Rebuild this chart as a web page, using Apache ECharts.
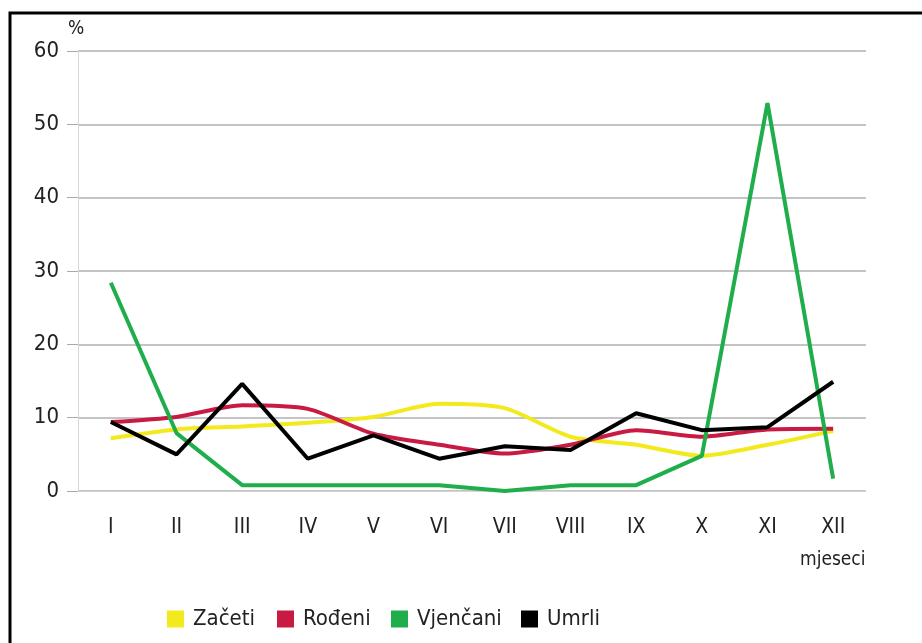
<!DOCTYPE html>
<html>
<head>
<meta charset="utf-8">
<script src="https://cdn.jsdelivr.net/npm/echarts@6/dist/echarts.min.js"></script>
<style>
  html, body { margin: 0; padding: 0; background: #fff; }
  #chart { width: 922px; height: 643px; }
</style>
</head>
<body>
<div id="chart"></div>
<script>
const months = ['I', 'II', 'III', 'IV', 'V', 'VI', 'VII', 'VIII', 'IX', 'X', 'XI', 'XII'];
const zaceti = [7.2, 8.4, 8.8, 9.3, 10.1, 11.9, 11.3, 7.4, 6.3, 4.8, 6.3, 8.2];
const rodeni = [9.4, 10.1, 11.7, 11.2, 7.8, 6.3, 5.1, 6.3, 8.3, 7.4, 8.4, 8.5];
const vjencani = [28.4, 7.9, 0.8, 0.8, 0.8, 0.8, 0, 0.8, 0.8, 4.8, 52.9, 1.7];
const umrli = [9.4, 5.0, 14.6, 4.4, 7.6, 4.4, 6.1, 5.6, 10.6, 8.3, 8.7, 14.9];

const font = "'Liberation Sans Narrow', 'DejaVu Sans Condensed', sans-serif";
const myChart = echarts.init(document.getElementById('chart'));

const legendAt = (name, left) => ({
  data: [name],
  left: left,
  top: 603,
  icon: 'rect',
  itemWidth: 17,
  itemHeight: 17,
  itemGap: 0,
  textStyle: { fontFamily: font, fontSize: 22, color: '#222', padding: [0, 0, 0, 4] },
});

myChart.setOption({
  animation: false,
  grid: { left: 78, right: 56, top: 51, bottom: 152 },
  legend: [
    legendAt('Začeti', 162),
    legendAt('Rođeni', 272),
    legendAt('Vjenčani', 386),
    legendAt('Umrli', 516),
  ],
  graphic: [
    {
      type: 'rect',
      shape: { x: 10, y: 13, width: 930, height: 660 },
      style: { fill: 'none', stroke: '#000', lineWidth: 3 },
    },
    {
      type: 'text',
      left: 800,
      top: 551,
      style: { text: 'mjeseci', font: '19px ' + font, fill: '#222' },
    },
  ],
  xAxis: {
    type: 'category',
    data: months,
    boundaryGap: true,
    axisLine: { lineStyle: { color: '#d4d4d4', width: 1 } },
    axisTick: { length: 24, lineStyle: { color: '#999', width: 1 } },
    axisLabel: { fontFamily: font, fontSize: 21, color: '#222', margin: 26 },
  },
  yAxis: {
    type: 'value',
    min: 0,
    max: 60,
    interval: 10,
    name: '%',
    nameGap: 12,
    nameTextStyle: { fontFamily: font, fontSize: 19, color: '#222', padding: [0, 0, 0, -4] },
    axisLine: { show: true, lineStyle: { color: '#d8d8d8', width: 1 } },
    axisTick: { show: true, length: 11, lineStyle: { color: '#aaa' } },
    axisLabel: { fontFamily: font, fontSize: 22, color: '#222', margin: 19 },
    splitLine: { lineStyle: { color: '#b0b0b0', width: 1.5 } },
  },
  series: [
    { name: 'Začeti', type: 'line', data: zaceti, smooth: 0.25, symbol: 'none', color: '#f2ea1c', lineStyle: { width: 4 } },
    { name: 'Rođeni', type: 'line', data: rodeni, smooth: 0.25, symbol: 'none', color: '#c81a43', lineStyle: { width: 4 } },
    { name: 'Vjenčani', type: 'line', data: vjencani, symbol: 'none', color: '#1fae4b', lineStyle: { width: 4 } },
    { name: 'Umrli', type: 'line', data: umrli, symbol: 'none', color: '#000000', lineStyle: { width: 4 } },
  ],
});
</script>
</body>
</html>
